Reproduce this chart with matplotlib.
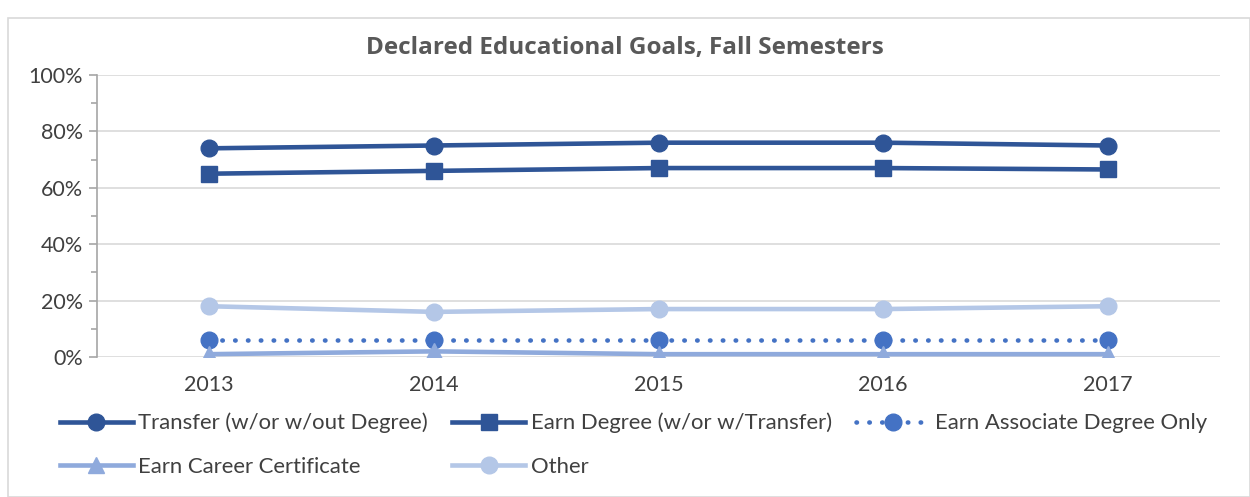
import matplotlib.pyplot as plt
from matplotlib.patches import Rectangle
from matplotlib.ticker import MultipleLocator, FuncFormatter

years = ['2013', '2014', '2015', '2016', '2017']
transfer = [74, 75, 76, 76, 75]
earn_degree = [65, 66, 67, 67, 66.5]
associate = [6, 6, 6, 6, 6]
certificate = [1, 2, 1, 1, 1]
other = [18, 16, 17, 17, 18]

plt.rcParams['font.family'] = ['Lato', 'DejaVu Sans']

fig = plt.figure(figsize=(12.5, 4.97), dpi=100)
fig.patches.append(Rectangle((8 / 1250, 0), 1 - 8 / 1250, 1 - 18 / 497,
                             transform=fig.transFigure, fill=False,
                             edgecolor='#D9D9D9', linewidth=1.2))
ax = fig.add_axes([97 / 1250, 1 - 357 / 497, (1220 - 97) / 1250, (357 - 75) / 497])

x = list(range(len(years)))
h_t, = ax.plot(x, transfer, color='#2F5597', lw=3.3, marker='o', ms=12,
               label='Transfer (w/or w/out Degree)', zorder=4)
h_e, = ax.plot(x, earn_degree, color='#2F5597', lw=3.3, marker='s', ms=12,
               label='Earn Degree (w/or w/Transfer)', zorder=4)
h_a, = ax.plot(x, associate, color='#4472C4', lw=3.3, marker='o', ms=12,
               linestyle=(0, (0.1, 2.7)), dash_capstyle='round',
               label='Earn Associate Degree Only', zorder=4)
h_c, = ax.plot(x, certificate, color='#8FAADC', lw=3.3, marker='^', ms=12,
               label='Earn Career Certificate', zorder=4)
h_o, = ax.plot(x, other, color='#B4C7E7', lw=3.3, marker='o', ms=12,
               label='Other', zorder=4)

ax.set_xlim(-0.5, 4.5)
ax.set_ylim(0, 100)
ax.set_xticks(x)
ax.set_xticklabels(years)
ax.yaxis.set_major_locator(MultipleLocator(20))
ax.yaxis.set_minor_locator(MultipleLocator(10))
ax.yaxis.set_major_formatter(FuncFormatter(lambda v, p: f'{v:.0f}%'))
ax.grid(axis='y', which='major', color='#D9D9D9', lw=1.2)
ax.set_axisbelow(True)
for s in ['top', 'right', 'bottom']:
    ax.spines[s].set_visible(False)
ax.spines['left'].set_color('#A6A6A6')
ax.spines['left'].set_linewidth(1.2)
ax.tick_params(axis='x', length=0, pad=13, labelsize=15.5, labelcolor='#404040')
ax.tick_params(axis='y', which='major', length=6, width=1.2, color='#A6A6A6',
               labelsize=15.5, labelcolor='#404040', pad=4)
ax.tick_params(axis='y', which='minor', length=4, width=1.2, color='#A6A6A6')

fig.text(0.5, 1 - 48 / 497, 'Declared Educational Goals, Fall Semesters',
         ha='center', va='center', fontsize=17.5, fontweight='bold',
         family=['Open Sans', 'DejaVu Sans'], color='#595959')

# column-major fill, so order gives rows: T E A / C O
handles = [h_t, h_c, h_e, h_o, h_a]
fig.legend(handles=handles, labels=[h.get_label() for h in handles],
           loc='upper left', bbox_to_anchor=(40 / 1250, 1 - 393 / 497), ncol=3,
           frameon=False, fontsize=15.9, handlelength=3.3, handletextpad=0.25,
           columnspacing=1.1, labelspacing=1.05, labelcolor='#404040')

fig.savefig('out.png', dpi=100)
